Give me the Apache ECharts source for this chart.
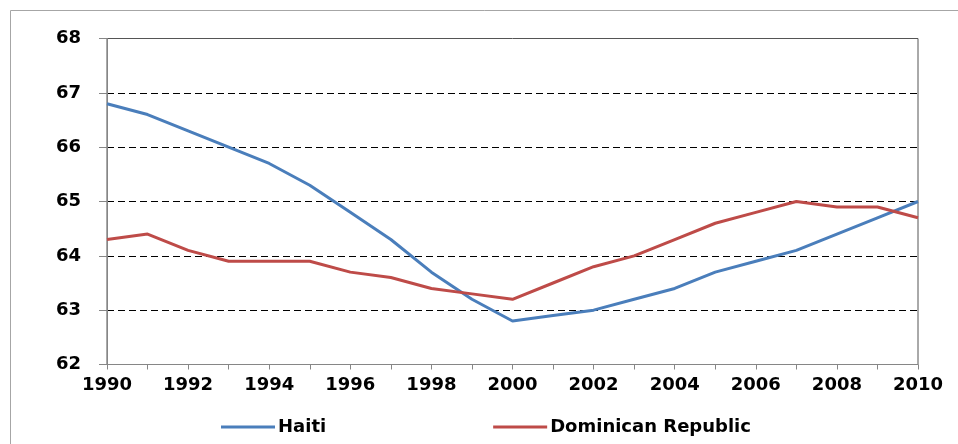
<!DOCTYPE html>
<html>
<head>
<meta charset="utf-8">
<script src="https://cdn.jsdelivr.net/npm/echarts@6/dist/echarts.min.js"></script>
<style>
html,body{margin:0;padding:0;background:#fff;}
#chart{width:958px;height:444px;}
</style>
</head>
<body>
<div id="chart"></div>
<script>
const years = ['1990','1991','1992','1993','1994','1995','1996','1997','1998','1999','2000','2001','2002','2003','2004','2005','2006','2007','2008','2009','2010'];
const haiti = [66.8,66.6,66.3,66.0,65.7,65.3,64.8,64.3,63.7,63.2,62.8,62.9,63.0,63.2,63.4,63.7,63.9,64.1,64.4,64.7,65.0];
const dominican = [64.3,64.4,64.1,63.9,63.9,63.9,63.7,63.6,63.4,63.3,63.2,63.5,63.8,64.0,64.3,64.6,64.8,65.0,64.9,64.9,64.7];
const seriesNames = ['Haiti','Dominican Republic'];

const font = 'DejaVu Sans';
const chart = echarts.init(document.getElementById('chart'));
chart.setOption({
  animation: false,
  backgroundColor: '#fff',
  graphic: [{
    type: 'rect', silent: true, z: -10,
    shape: {x: 10.5, y: 10.5, width: 1000, height: 1000},
    style: {fill: 'none', stroke: '#a6a6a6', lineWidth: 1}
  }],
  grid: {left: 107, right: 40, top: 38.5, bottom: 79.5, show: true, borderColor: '#555', borderWidth: 1, backgroundColor: 'transparent'},
  legend: {
    data: seriesNames, left: 216, top: 413, itemGap: 167, itemWidth: 54, itemHeight: 3,
    icon: 'rect', textStyle: {fontFamily: font, fontWeight: 'bold', fontSize: 18, color: '#000', padding: [0,0,0,-2]}
  },
  xAxis: {
    type: 'category', data: years, boundaryGap: false,
    axisLine: {lineStyle: {color: '#868686', width: 1}},
    axisTick: {show: true, interval: 0, length: 5, lineStyle: {color: '#868686'}},
    axisLabel: {interval: 1, margin: 12, fontFamily: font, fontWeight: 'bold', fontSize: 18, color: '#000'},
    splitLine: {show: false}
  },
  yAxis: {
    type: 'value', min: 62, max: 68, interval: 1,
    axisLine: {show: true, lineStyle: {color: '#868686', width: 1}},
    axisTick: {show: true, length: 8, lineStyle: {color: '#868686'}},
    axisLabel: {margin: 26, fontFamily: font, fontWeight: 'bold', fontSize: 18, color: '#000'},
    splitLine: {show: true, showMinLine: false, showMaxLine: false, lineStyle: {color: '#000', width: 1, type: [7,4]}}
  },
  series: [
    {name: seriesNames[0], type: 'line', data: haiti, showSymbol: false, symbol: 'none', lineStyle: {color: '#4A7EBB', width: 3}, itemStyle: {color: '#4A7EBB'}},
    {name: seriesNames[1], type: 'line', data: dominican, showSymbol: false, symbol: 'none', lineStyle: {color: '#BE4B48', width: 3}, itemStyle: {color: '#BE4B48'}}
  ]
});
</script>
</body>
</html>
